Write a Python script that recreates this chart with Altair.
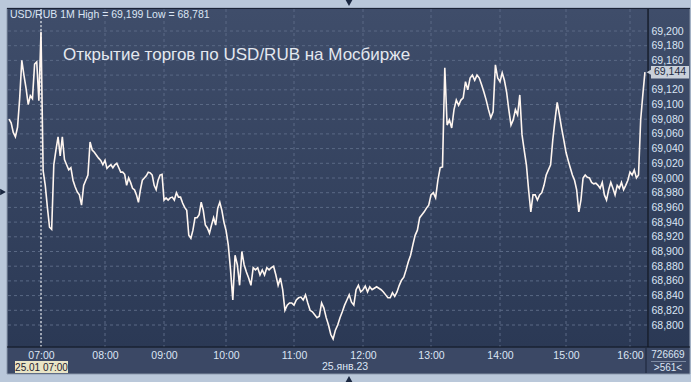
import altair as alt
import pandas as pd

# ---- data (USD/RUB, 1-minute bars, sampled every 2 minutes) ----
pre_open = [69.080, 69.075, 69.062, 69.056, 69.069, 69.108, 69.160, 69.140, 69.122, 69.100,
            69.112, 69.108, 69.155, 69.158, 69.105]          # 06:30 .. 06:58
h07 = [69.199, 69.010, 68.990, 68.960, 68.933, 68.930, 69.018, 69.038, 69.056, 69.030,
       69.056, 69.025, 69.018, 69.011, 69.014, 68.997, 68.988, 68.981, 68.977, 68.963,
       68.990, 68.997, 69.004, 69.049, 69.038, 69.035, 69.031, 69.027, 69.024, 69.018]
h08 = [69.024, 69.013, 69.016, 69.018, 69.014, 69.018, 69.020, 69.014, 69.008, 69.008,
       69.005, 68.990, 69.000, 68.994, 68.986, 68.984, 68.977, 68.967, 68.984, 68.997,
       69.000, 69.003, 69.008, 69.007, 69.004, 68.990, 68.984, 68.997, 69.004, 69.005]
h09 = [68.970, 68.973, 68.970, 68.973, 68.974, 68.970, 68.980, 68.974, 68.974, 68.966,
       68.960, 68.956, 68.922, 68.918, 68.929, 68.946, 68.946, 68.950, 68.967, 68.956,
       68.936, 68.932, 68.925, 68.936, 68.946, 68.936, 68.959, 68.967, 68.956, 68.940]
h10 = [68.929, 68.909, 68.875, 68.834, 68.895, 68.882, 68.854, 68.900, 68.882, 68.872,
       68.864, 68.854, 68.878, 68.875, 68.878, 68.868, 68.875, 68.868, 68.878, 68.875,
       68.878, 68.880, 68.868, 68.854, 68.864, 68.848, 68.820, 68.827, 68.830, 68.830]
h11 = [68.827, 68.834, 68.837, 68.838, 68.834, 68.841, 68.830, 68.820, 68.818, 68.814,
       68.810, 68.812, 68.830, 68.823, 68.810, 68.800, 68.787, 68.781, 68.793, 68.800,
       68.810, 68.818, 68.827, 68.834, 68.841, 68.831, 68.827, 68.848, 68.854, 68.845]
h12 = [68.848, 68.853, 68.845, 68.852, 68.848, 68.850, 68.852, 68.850, 68.848, 68.845,
       68.841, 68.837, 68.837, 68.844, 68.839, 68.845, 68.854, 68.861, 68.865, 68.875,
       68.886, 68.895, 68.909, 68.922, 68.929, 68.946, 68.950, 68.954, 68.959, 68.963]
h13 = [68.977, 68.980, 68.973, 68.997, 69.014, 69.015, 69.150, 69.072, 69.079, 69.068,
       69.093, 69.106, 69.099, 69.106, 69.109, 69.131, 69.120, 69.136, 69.140, 69.133,
       69.140, 69.136, 69.127, 69.117, 69.106, 69.093, 69.082, 69.090, 69.154, 69.136]
h14 = [69.131, 69.143, 69.133, 69.117, 69.093, 69.072, 69.079, 69.093, 69.086, 69.113,
       69.059, 69.038, 69.018, 68.984, 68.954, 68.977, 68.977, 68.970, 68.977, 68.980,
       68.990, 69.004, 69.011, 69.018, 69.052, 69.079, 69.103, 69.086, 69.068, 69.052]
h15 = [69.035, 69.024, 69.014, 69.004, 68.997, 68.984, 68.954, 68.970, 69.000, 69.004,
       69.001, 69.000, 68.994, 68.992, 68.993, 68.990, 68.986, 68.994, 68.977, 68.970,
       68.984, 68.994, 68.986, 68.977, 68.990, 68.986, 68.994, 68.984, 68.990, 68.997]
h16 = [69.008, 69.004, 69.011, 69.000, 69.004, 69.079, 69.113, 69.144]

hour_labels = ["07:00", "08:00", "09:00", "10:00", "11:00", "12:00",
               "13:00", "14:00", "15:00", "16:00"]
price_ticks = [68.80, 68.82, 68.84, 68.86, 68.88, 68.90, 68.92, 68.94, 68.96, 68.98,
               69.00, 69.02, 69.04, 69.06, 69.08, 69.10, 69.12, 69.14, 69.16, 69.18, 69.20]

title_text = "Открытие торгов по USD/RUB на Мосбирже"
date_text = "25.янв.23"
cursor_text = "25.01 07:00"
volume_text = "726669"
bars_text = ">561<"

# ---- build table ----
segments = [(-30, pre_open), (0, h07), (60, h08), (120, h09), (180, h10), (240, h11),
            (300, h12), (360, h13), (420, h14), (480, h15), (540, h16)]
rows = []
for start, vals in segments:
    for i, v in enumerate(vals):
        rows.append({"minute": start + 2 * i, "price": v})
df = pd.DataFrame(rows)
hi, lo, last = df.price.max(), df.price.min(), df.price.iloc[-1]
fmt = lambda v: f"{v:.3f}".replace(".", ",")
header_text = f"USD/RUB 1M High = {fmt(hi)} Low = {fmt(lo)}"

hour_minutes = [60 * i for i in range(len(hour_labels))]
# the terminal compresses quiet minutes, so hour marks are not evenly spaced
hour_px = [41, 105, 164, 226, 294, 363, 431, 500, 566, 630]
# the last-price tag hides the tick label it covers
label_ticks = [p for p in price_ticks if abs(p - last) > 0.008]

xscale = alt.Scale(domain=hour_minutes, range=hour_px, nice=False, zero=False)
yscale = alt.Scale(domain=[68.8, 69.2], range=[325, 31], nice=False, zero=False)

one = pd.DataFrame({"k": [0]})
FONT = "Liberation Sans"
LABEL = "#dbe5f4"

axis_x = alt.Axis(values=hour_minutes, orient="bottom", offset=-35, domain=False, ticks=False,
                  grid=False, title=None, labelColor=LABEL, labelFont=FONT, labelFontSize=10.5,
                  labelPadding=3, labelOverlap=False, labelFlush=False, zindex=2,
                  labelExpr="(datum.value/60+7 < 10 ? '0' : '') + (datum.value/60+7) + ':00'")
axis_y = alt.Axis(values=label_ticks, orient="right", offset=-43, domain=False, ticks=False,
                  grid=False, title=None, labelColor=LABEL, labelFont=FONT, labelFontSize=10.5,
                  labelPadding=3, labelOverlap=False, labelFlush=False, zindex=2,
                  labelExpr="replace(format(datum.value, '.3f'), '.', ',')")


def X(field):
    return alt.X(field, scale=xscale, axis=axis_x)


def Y(field):
    return alt.Y(field, scale=yscale, axis=axis_y)


def box(x1, x2, y1, y2, fill, stroke=None):
    kw = dict(fill=fill)
    if stroke:
        kw.update(stroke=stroke, strokeWidth=1)
    return alt.Chart(one).mark_rect(**kw).encode(
        x=alt.value(x1), x2=alt.value(x2), y=alt.value(y1), y2=alt.value(y2))


grad = alt.LinearGradient(gradient="linear", x1=0, x2=0, y1=0, y2=1,
                          stops=[alt.GradientStop(color="#3f4d6a", offset=0),
                                 alt.GradientStop(color="#2b3955", offset=1)])

frame = box(7, 690, 8, 374, "#33405b", "#8e9bb0")
plot_bg = alt.Chart(one).mark_rect(fill=grad).encode(
    x=alt.value(8), x2=alt.value(648), y=alt.value(9), y2=alt.value(347))
right_bg = alt.Chart(one).mark_rect(fill=grad).encode(
    x=alt.value(649), x2=alt.value(689), y=alt.value(9), y2=alt.value(347))
bottom_bg = box(8, 645, 348, 373, "#3b4865")
corner_bg = box(647, 689, 348, 373, "#3b4865")

hgrid = alt.Chart(pd.DataFrame({"p": price_ticks})).mark_rule(
    color="#5a6985", strokeDash=[3, 3], strokeWidth=1).encode(
    y=Y("p:Q"), x=alt.value(8), x2=alt.value(648))
vgrid = alt.Chart(pd.DataFrame({"minute": hour_minutes})).mark_rule(
    color="#5a6985", strokeDash=[3, 3], strokeWidth=1).encode(
    x=X("minute:Q"), y=alt.value(9), y2=alt.value(347))
cursor = alt.Chart(pd.DataFrame({"minute": [0]})).mark_rule(
    color="#ffffff", strokeDash=[2, 2], strokeWidth=1).encode(
    x=X("minute:Q"), y=alt.value(9), y2=alt.value(347))

line = alt.Chart(df).mark_line(color="#fff6f0", strokeWidth=1.6, strokeJoin="miter").encode(
    x=X("minute:Q"), y=Y("price:Q"))

sep_v = alt.Chart(one).mark_rule(color="#111722", strokeWidth=1.2).encode(
    x=alt.value(648), y=alt.value(8), y2=alt.value(347))
sep_h = alt.Chart(one).mark_rule(color="#111722", strokeWidth=1.2).encode(
    x=alt.value(7), x2=alt.value(690), y=alt.value(347))
sep_top = alt.Chart(one).mark_rule(color="#1b2436", strokeWidth=1).encode(
    x=alt.value(7), x2=alt.value(690), y=alt.value(8.5))
sep_corner = alt.Chart(one).mark_rule(color="#28324a", strokeWidth=1.5).encode(
    x=alt.value(646), y=alt.value(348), y2=alt.value(373))
sep_box = alt.Chart(one).mark_rule(color="#7e8ba3", strokeWidth=1).encode(
    x=alt.value(651), x2=alt.value(686), y=alt.value(361.5))


def label(text, x, y, size=10.5, color=LABEL, align="left", font=FONT):
    return alt.Chart(pd.DataFrame({"t": [text]})).mark_text(
        align=align, baseline="middle", fontSize=size, font=font, color=color).encode(
        text="t:N", x=alt.value(x), y=alt.value(y))


header = label(header_text, 10, 15, size=10.5)
title = label(title_text, 63, 55, size=17, color="#e4e8ef")
date_lbl = label(date_text, 345, 367, size=10.5, align="center")
vol_lbl = label(volume_text, 668, 355, size=10, align="center")
bars_lbl = label(bars_text, 668, 368, size=10, align="center")

cur_box = box(15, 68, 361, 373, "#e9e5c6")
cur_lbl = label(cursor_text, 41.5, 367.5, size=10, color="#1d2130", align="center")

tag_box = alt.Chart(pd.DataFrame({"hi": [last + 0.0085], "lo": [last - 0.0085]})).mark_rect(
    fill="#c9d0da").encode(
    x=alt.value(651), x2=alt.value(689), y=Y("hi:Q"), y2="lo:Q")
tag_tri = alt.Chart(pd.DataFrame({"p": [last]})).mark_point(
    shape="triangle-left", filled=True, size=30, color="#c9d0da", opacity=1).encode(
    x=alt.value(649), y=Y("p:Q"))
tag_lbl = alt.Chart(pd.DataFrame({"p": [last], "t": [fmt(last)]})).mark_text(
    align="left", baseline="middle", fontSize=10.5, font=FONT, color="#1e2a3e").encode(
    x=alt.value(654), y=Y("p:Q"), text="t:N")

tri_top = alt.Chart(one).mark_point(shape="triangle-down", filled=True, size=45,
                                    color="#1a2740", opacity=1).encode(
    x=alt.value(349), y=alt.value(3))
tri_bot = alt.Chart(one).mark_point(shape="triangle-up", filled=True, size=45,
                                    color="#1a2740", opacity=1).encode(
    x=alt.value(349), y=alt.value(379))
tri_left = alt.Chart(one).mark_point(shape="triangle-right", filled=True, size=45,
                                     color="#1a2740", opacity=1).encode(
    x=alt.value(3), y=alt.value(192))

chart = alt.layer(
    frame, plot_bg, right_bg, bottom_bg, corner_bg,
    hgrid, vgrid, cursor, line,
    sep_v, sep_h, sep_top, sep_corner, sep_box,
    header, title, date_lbl, vol_lbl, bars_lbl, cur_box, cur_lbl,
    tag_box, tag_tri, tag_lbl, tri_top, tri_bot, tri_left,
).resolve_scale(x="shared", y="shared").properties(
    width=691, height=382, autosize=alt.AutoSizeParams(type="none"), padding=0,
    background="#bac8da",
).configure_view(stroke=None)

chart.save("out.html", embed_options={"renderer": "svg", "actions": False})
